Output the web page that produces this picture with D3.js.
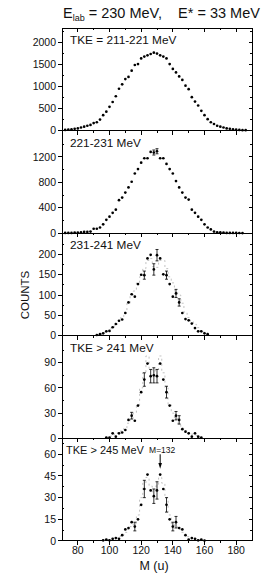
<!DOCTYPE html>
<html>
<head>
<meta charset="utf-8">
<script src="https://cdn.jsdelivr.net/npm/d3@7"></script>
<style>
  body { margin: 0; background: #fff; }
  text { font-family: "Liberation Sans", Arial, sans-serif; fill: #111; }
</style>
</head>
<body>
<div id="chart"></div>
<script>
// fragment mass (u) and counts for each TKE window
const mass1 = [72,74,76,78,80,82,84,86,88,90,92,94,96,98,100,102,104,106,108,110,112,114,116,118,120,122,124,126,128,130,132,134,136,138,140,142,144,146,148,150,152,154,156,158,160,162,164,166,168,170,172,174,176,178,180,182,184,186];
const counts1 = [15,20,30,40,50,70,90,110,130,170,190,250,350,430,540,650,780,950,1050,1170,1220,1360,1490,1510,1640,1680,1710,1740,1770,1750,1710,1680,1640,1510,1400,1320,1230,1150,1020,940,760,660,570,450,350,260,190,150,110,90,70,50,40,30,20,15,10,10];

const mass2 = [72,74,76,78,80,82,84,86,88,90,92,94,96,98,100,102,104,106,108,110,112,114,116,118,120,122,124,126,128,130,132,134,136,138,140,142,144,146,148,150,152,154,156,158,160,162,164,166,168,170,172,174,176,178,180,182,184];
const counts2 = [5,5,5,10,10,15,20,20,25,70,70,90,140,210,260,320,370,520,560,640,720,810,940,1010,1110,1180,1180,1280,1270,1290,1180,1180,1090,1010,940,820,720,640,560,530,370,320,260,210,140,90,60,25,15,15,10,5,5,5,5,3,2];
const errs2 = [0,0,0,0,0,0,0,0,0,0,0,0,0,0,0,0,0,0,0,0,0,0,0,0,0,0,0,0,40,40,0,0,0,0,0,0,0,0,0,0,0,0,0,0,0,0,0,0,0,0,0,0,0,0,0,0,0];

const mass3 = [92,94,96,98,100,102,104,106,108,110,112,114,116,118,120,122,124,126,128,130,132,134,136,138,140,142,144,146,148,150,152,154,156,158,160,162];
const counts3 = [2,4,6,11,12,21,29,37,40,56,82,102,96,127,150,149,190,199,163,198,190,151,149,127,96,104,82,56,41,38,30,19,11,11,6,4];
const errs3 = [0,0,0,0,0,0,0,0,0,0,0,0,0,0,0,10,0,0,14,14,0,0,10,0,0,10,9,0,0,0,0,0,0,0,0,0];
const gray3 = [2,3,6,9,13,20,28,36,45,58,80,100,110,130,145,165,185,190,170,168,185,185,165,145,130,110,100,80,58,45,36,28,20,13,9,6];

const mass4 = [98,100,102,104,106,108,110,112,114,116,118,120,122,124,126,128,130,132,134,136,138,140,142,144,146,148,150,152,154,156,158];
const counts4 = [1,1,6,2,6,7,10,22,27,21,39,55,70,89,74,75,74,89,70,55,39,21,27,22,11,8,6,2,6,2,1];
const errs4 = [0,0,0,0,0,0,0,0,4,0,0,0,8,0,8,9,8,0,0,7,0,0,5,5,0,0,0,0,0,0,0];
const gray4 = [1,2,4,5,7,9,12,18,24,30,40,60,78,98,82,80,82,98,78,60,40,30,24,18,12,9,7,5,4,2,1];

const mass5 = [96,98,100,102,104,106,108,110,112,114,116,118,120,122,124,126,128,130,132,134,136,138,140,142,144,146,148,150,152,154,156,158,160];
const counts5 = [0.5,1,0.5,1.5,2,1.5,4,8,9,13,10,15,25,36,46,35,31,35,46,36,25,15,10,13,9,8,4,1,2,1.5,0.5,1,0.3];
const errs5 = [0,0,0,0,0,0,0,0,0,0,3,0,0,6,0,0,5,6,0,0,5,0,3,4,0,0,0,0,0,0,0,0,0];
const gray5 = [0.5,1,1,1.5,2,3,4,6,8,10,12,18,30,40,44,38,34,38,44,40,30,18,12,10,8,6,4,3,2,1.5,1,1,0.5];

const labels = ["TKE = 211-221 MeV", "221-231 MeV", "231-241 MeV", "TKE > 241 MeV", "TKE > 245 MeV"];
const yMaxes = [2330, 1615, 252, 122, 71];
const yMajorSteps = [500, 400, 50, 30, 15];
const yLabelMax = [2000, 1200, 200, 90, 60];
const xTicks = [80, 100, 120, 140, 160, 180];
const xMinorTicks = [90, 110, 130, 150, 170];

const panels = [
    {mass: mass1, counts: counts1, errs: null, gray: null},
    {mass: mass2, counts: counts2, errs: errs2, gray: null},
    {mass: mass3, counts: counts3, errs: errs3, gray: gray3},
    {mass: mass4, counts: counts4, errs: errs4, gray: gray4},
    {mass: mass5, counts: counts5, errs: errs5, gray: gray5}
];

const margin = {top: 28, left: 62},
    width = 190,
    panelH = 102.6,
    totalH = panelH * panels.length;

const svg = d3.select("#chart").append("svg")
    .attr("width", 272)
    .attr("height", 583);

const g = svg.append("g")
    .attr("transform", "translate(" + margin.left + "," + margin.top + ")");

const x = d3.scaleLinear().domain([70, 190]).range([0, width]);

panels.forEach(function(p, i) {
    const top = i * panelH;
    const pg = g.append("g").attr("transform", "translate(0," + top + ")");
    const y = d3.scaleLinear().domain([0, yMaxes[i]]).range([panelH, 0]);

    // frame
    pg.append("rect")
        .attr("width", width).attr("height", panelH)
        .attr("fill", "none").attr("stroke", "#000").attr("stroke-width", 1)
        .attr("shape-rendering", "crispEdges");

    // x ticks, pointing down from the panel bottom (and from the top of the first panel)
    const edges = i === 0 ? [0, panelH] : [panelH];
    edges.forEach(function(ey) {
        pg.selectAll(null).data(xTicks).enter().append("line")
            .attr("x1", d => x(d)).attr("x2", d => x(d))
            .attr("y1", ey).attr("y2", ey + 4)
            .attr("stroke", "#000").attr("shape-rendering", "crispEdges");
        pg.selectAll(null).data(xMinorTicks).enter().append("line")
            .attr("x1", d => x(d)).attr("x2", d => x(d))
            .attr("y1", ey).attr("y2", ey + 2)
            .attr("stroke", "#000").attr("shape-rendering", "crispEdges");
    });

    // y ticks
    const step = yMajorSteps[i];
    const major = d3.range(0, yLabelMax[i] + step / 2, step);
    const minor = d3.range(step / 2, yMaxes[i], step);
    pg.selectAll(null).data(major).enter().append("line")
        .attr("x1", -4).attr("x2", 0)
        .attr("y1", d => y(d)).attr("y2", d => y(d))
        .attr("stroke", "#000").attr("shape-rendering", "crispEdges");
    pg.selectAll(null).data(minor).enter().append("line")
        .attr("x1", 0).attr("x2", 2)
        .attr("y1", d => y(d)).attr("y2", d => y(d))
        .attr("stroke", "#000").attr("shape-rendering", "crispEdges");
    pg.selectAll(null).data(major.filter(d => d > 0)).enter().append("line")
        .attr("x1", width - 3).attr("x2", width)
        .attr("y1", d => y(d)).attr("y2", d => y(d))
        .attr("stroke", "#000").attr("shape-rendering", "crispEdges");
    pg.selectAll(null).data(minor).enter().append("line")
        .attr("x1", width - 2).attr("x2", width)
        .attr("y1", d => y(d)).attr("y2", d => y(d))
        .attr("stroke", "#000").attr("shape-rendering", "crispEdges");
    pg.selectAll(null).data(major).enter().append("text")
        .attr("x", -6).attr("y", d => y(d))
        .attr("dy", "0.35em")
        .attr("text-anchor", "end")
        .style("font-size", "10.5px")
        .text(d => d);

    // grey dashed step histogram
    if (p.gray) {
        const line = d3.line()
            .x((d, j) => x(p.mass[j]))
            .y(d => y(d))
            .curve(d3.curveStep);
        pg.append("path")
            .attr("d", line(p.gray))
            .attr("fill", "none")
            .attr("stroke", "#bbb")
            .attr("stroke-width", 0.9)
            .attr("stroke-dasharray", "2,3");
    }

    // error bars
    if (p.errs) {
        const eb = p.counts.map((c, j) => ({m: p.mass[j], c: c, e: p.errs[j]})).filter(d => d.e > 0);
        pg.selectAll(null).data(eb).enter().append("line")
            .attr("x1", d => x(d.m)).attr("x2", d => x(d.m))
            .attr("y1", d => y(d.c - d.e)).attr("y2", d => y(d.c + d.e))
            .attr("stroke", "#000").attr("stroke-width", 0.8);
        ["lo", "hi"].forEach(function(k) {
            pg.selectAll(null).data(eb).enter().append("line")
                .attr("x1", d => x(d.m) - 1.5).attr("x2", d => x(d.m) + 1.5)
                .attr("y1", d => y(k === "lo" ? d.c - d.e : d.c + d.e))
                .attr("y2", d => y(k === "lo" ? d.c - d.e : d.c + d.e))
                .attr("stroke", "#000").attr("stroke-width", 0.8);
        });
    }

    // data points
    pg.selectAll(null).data(p.counts).enter().append("circle")
        .attr("cx", (d, j) => x(p.mass[j]))
        .attr("cy", d => y(d))
        .attr("r", 1.35)
        .attr("fill", "#000");

    // panel label
    const last = i === panels.length - 1;
    pg.append("text")
        .attr("x", last ? 4 : 8).attr("y", 16)
        .style("font-size", last ? "11px" : "11.8px")
        .text(labels[i]);

    // arrow for M=132 in the last panel
    if (last) {
        const ax = x(132);
        pg.append("text")
            .attr("x", ax + 2).attr("y", 15)
            .attr("text-anchor", "middle")
            .style("font-size", "8.5px")
            .text("M=132");
        pg.append("line")
            .attr("x1", ax).attr("x2", ax)
            .attr("y1", y(60)).attr("y2", y(53))
            .attr("stroke", "#000");
        pg.append("path")
            .attr("d", "M" + (ax - 1.8) + "," + y(54) + "L" + (ax + 1.8) + "," + y(54) + "L" + ax + "," + y(50) + "Z")
            .attr("fill", "#000");
    }
});

// bottom x tick labels
g.selectAll(null).data(xTicks).enter().append("text")
    .attr("x", d => x(d)).attr("y", totalH + 13)
    .attr("text-anchor", "middle")
    .style("font-size", "10.5px")
    .text(d => d);

// axis titles
g.append("text")
    .attr("x", width / 2 - 3).attr("y", totalH + 29)
    .attr("text-anchor", "middle")
    .style("font-size", "12.5px")
    .text("M (u)");

svg.append("text")
    .attr("transform", "translate(29,295) rotate(-90)")
    .attr("text-anchor", "middle")
    .style("font-size", "11.5px")
    .text("COUNTS");

// title
const title = svg.append("text")
    .attr("x", 63).attr("y", 18)
    .style("font-size", "14.5px")
    .style("white-space", "pre");
title.append("tspan").text("E");
title.append("tspan").attr("dy", 3).style("font-size", "9px").text("lab");
title.append("tspan").attr("dy", -3).text(" = 230 MeV,    E* = 33 MeV");
</script>
</body>
</html>
